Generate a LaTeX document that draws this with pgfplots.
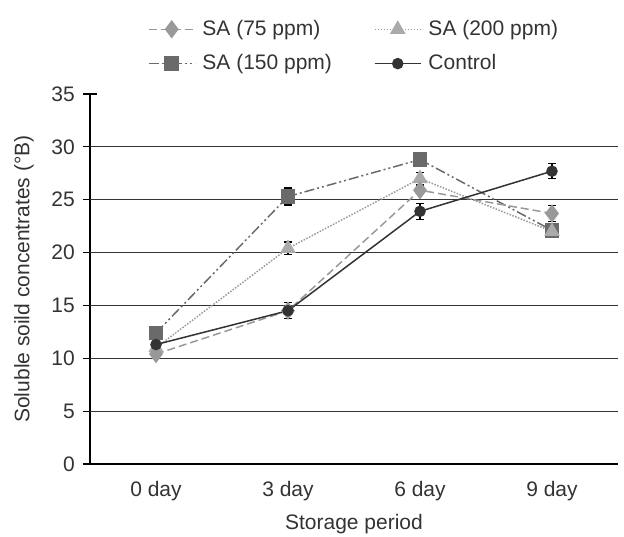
\documentclass[border=0pt]{standalone}
\usepackage{pgfplots}
\pgfplotsset{compat=1.18}
\usepackage{fontspec}
\setmainfont{Liberation Sans}

\definecolor{gLight}{HTML}{AAAAAA}
\definecolor{gMid}{HTML}{999999}
\definecolor{gDark}{HTML}{6A6A6A}
\definecolor{gBlack}{HTML}{333333}

\pgfplotstableread{
x  sa75  sa150 sa200 ctrl
0  10.4  12.4  11.0  11.3
1  14.5  25.3  20.4  14.5
2  25.9  28.8  27.0  23.9
3  23.7  22.1  22.0  27.7
}\ssc

% only the visible error bars
\pgfplotstableread{
x  y     e
0  11.3  0.75
1  14.5  0.75
2  23.9  0.75
3  27.7  0.7
1  25.3  0.8
1  20.4  0.6
2  27.0  0.6
3  23.7  0.75
}\errs

\begin{document}
\fontsize{21}{25}\selectfont
\begin{tikzpicture}
\useasboundingbox (-90pt,-72pt) rectangle (534pt,464pt);
\begin{axis}[
  scale only axis, width=528pt, height=370pt,
  xmin=-0.5, xmax=3.5, ymin=0, ymax=35,
  xtick={0,1,2,3}, xticklabels={0 day,3 day,6 day,9 day},
  ytick={0,5,...,35},
  extra y ticks={5,10,...,30}, extra y tick labels={},
  extra y tick style={ymajorgrids=true, major tick length=0pt},
  major grid style={gBlack, line width=1.2pt},
  axis x line*=bottom, axis y line*=left,
  axis line style={black, line width=1.2pt, -},
  xtick style={draw=none},
  ytick style={black, line width=1.2pt},
  tick align=center, major tick length=14pt,
  /pgf/number format/assume math mode=true,
  tick label style={font=\fontsize{21}{25}\selectfont, text=gBlack},
  yticklabel style={xshift=-1pt},
  xticklabel style={yshift=-3pt},
  xlabel={Storage period},
  ylabel={Soluble soild concentrates (°B)},
  label style={font=\fontsize{21}{25}\selectfont, text=gBlack},
  xlabel style={at={(axis description cs:0.5,-0.162)}, anchor=center},
  ylabel style={at={(axis description cs:-0.125,0.5)}, anchor=center, rotate=0},
  legend columns=2,
  legend style={at={(0.5,1)}, anchor=south, yshift=17pt, draw=none, fill=none,
    font=\fontsize{21}{25}\selectfont, text=gBlack, row sep=12pt,
    /tikz/every odd column/.append style={column sep=5pt},
    /tikz/every even column/.append style={column sep=40pt}},
  legend cell align=left,
  legend image code/.code={\draw[mark repeat=2,mark phase=2,#1]
    plot coordinates {(0pt,0pt)(23pt,0pt)(46pt,0pt)};},
]
\addlegendimage{gMid, line width=1.5pt, dash pattern=on 8pt off 4pt,
  mark=diamond*, mark size=8pt, mark options={solid, fill=gMid, draw=gMid}}
\addlegendentry{SA (75 ppm)}
\addlegendimage{gMid, line width=1.5pt, dash pattern=on 1.5pt off 1.5pt,
  mark=triangle*, mark size=7.5pt, mark options={solid, fill=gLight, draw=gLight}}
\addlegendentry{SA (200 ppm)}
\addlegendimage{gDark, line width=1.5pt, dash pattern=on 10pt off 3pt on 2pt off 3pt on 2pt off 3pt,
  mark=square*, mark size=6.5pt, mark options={solid, fill=gDark, draw=gDark}}
\addlegendentry{SA (150 ppm)}
\addlegendimage{gBlack, line width=1.5pt,
  mark=*, mark size=5pt, mark options={solid, fill=gBlack, draw=gBlack}}
\addlegendentry{Control}

\addplot[forget plot, gDark, line width=1.5pt,
  dash pattern=on 10pt off 3pt on 2pt off 3pt on 2pt off 3pt,
  mark=square*, mark size=6.5pt, mark options={solid, fill=gDark, draw=gDark}]
  table[x=x, y=sa150] {\ssc};
\addplot[forget plot, gMid, line width=1.5pt, dash pattern=on 1.5pt off 1.5pt,
  mark=triangle*, mark size=7.5pt, mark options={solid, fill=gLight, draw=gLight}]
  table[x=x, y=sa200] {\ssc};
\addplot[forget plot, gMid, line width=1.5pt, dash pattern=on 8pt off 4pt,
  mark=diamond*, mark size=8pt, mark options={solid, fill=gMid, draw=gMid}]
  table[x=x, y=sa75] {\ssc};
\addplot[forget plot, gBlack, line width=1.5pt,
  mark=*, mark size=5pt, mark options={solid, fill=gBlack, draw=gBlack}]
  table[x=x, y=ctrl] {\ssc};

\addplot[forget plot, draw=none, mark=none,
  error bars/.cd, y dir=both, y explicit,
  error bar style={draw=black, line width=1.4pt, solid},
  error mark options={rotate=90, draw=black, mark size=4pt, line width=1.4pt}]
  table[x=x, y=y, y error=e] {\errs};
\end{axis}
\end{tikzpicture}
\end{document}
